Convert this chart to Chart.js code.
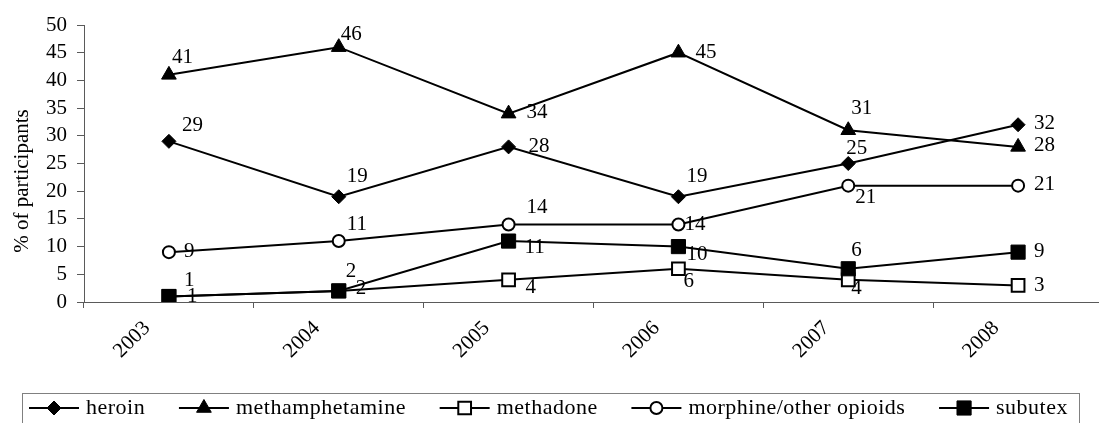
<!DOCTYPE html>
<html>
<head>
<meta charset="utf-8">
<script src="https://cdn.jsdelivr.net/npm/chart.js@4/dist/chart.umd.min.js"></script>
<style>
  html, body { margin: 0; padding: 0; background: #fff; overflow: hidden; }
  #wrap { width: 1099px; height: 423px; overflow: hidden; }
  canvas { display: block; }
</style>
</head>
<body>
<div id="wrap"><canvas id="trendChart" width="1114" height="423" style="width:1114px;height:423px"></canvas></div>
<script>
const years = ['2003', '2004', '2005', '2006', '2007', '2008'];
const heroin = [29, 19, 28, 19, 25, 32];
const methamphetamine = [41, 46, 34, 45, 31, 28];
const methadone = [1, 2, 4, 6, 4, 3];
const morphine = [9, 11, 14, 14, 21, 21];
const subutex = [1, 2, 11, 10, 6, 9];
const yMin = 0, yMax = 50, yStep = 5;
const yTitle = '% of participants';

// value label placement: [dx to start of text, dy to middle of text] from each point
const labelOffsets = {
  heroin:          [[13, -16], [8, -20], [20, 0], [8, -20], [-2, -15], [16, -1]],
  methamphetamine: [[3, -17], [2, -13], [18, -1], [17, 0], [3, -22], [16, -1]],
  methadone:       [[18, 0], [17, -2], [17, 8], [5, 13], [3, 9], [16, 0]],
  morphine:        [[15, -1], [8, -17], [18, -17], [6, 0], [7, 12], [16, -1]],
  subutex:         [[15, -16], [7, -19], [16, 6], [8, 8], [3, -18], [16, -1]]
};

const FONT = '"Liberation Serif", "Times New Roman", serif';
const AXIS = '#5a5a5a';

function series(key, label, data, style, radius, fill, borderWidth, order) {
  return {
    key: key,
    label: label,
    data: data,
    order: order,
    borderColor: '#000',
    borderWidth: 2,
    tension: 0,
    pointStyle: style,
    pointRadius: radius,
    pointBackgroundColor: fill,
    pointBorderColor: '#000',
    pointBorderWidth: borderWidth
  };
}

const datasets = [
  series('heroin', 'heroin', heroin, 'rectRot', 7, '#000', 1, 1),
  series('methamphetamine', 'methamphetamine', methamphetamine, 'triangle', 8.5, '#000', 1, 1),
  series('methadone', 'methadone', methadone, 'rect', 9, '#fff', 2, 1),
  series('morphine', 'morphine/other opioids', morphine, 'circle', 6, '#fff', 2, 1),
  series('subutex', 'subutex', subutex, 'rect', 10, '#000', 1, 0)
];

const annotate = {
  id: 'annotate',
  afterDatasetsDraw(chart) {
    const ctx = chart.ctx;
    ctx.save();
    ctx.font = '21px ' + FONT;
    ctx.fillStyle = '#000';
    ctx.textAlign = 'left';
    ctx.textBaseline = 'middle';
    chart.data.datasets.forEach((ds, i) => {
      const offs = labelOffsets[ds.key];
      chart.getDatasetMeta(i).data.forEach((pt, j) => {
        ctx.fillText(String(ds.data[j]), pt.x + offs[j][0], pt.y + offs[j][1]);
      });
    });
    ctx.restore();
  },
  afterDraw(chart) {
    const ctx = chart.ctx;

    // y axis title
    ctx.save();
    ctx.translate(22, 181);
    ctx.rotate(-Math.PI / 2);
    ctx.font = '21px ' + FONT;
    ctx.fillStyle = '#000';
    ctx.textAlign = 'center';
    ctx.textBaseline = 'middle';
    ctx.fillText(yTitle, 0, 0);
    ctx.restore();

    // legend box along the bottom
    const box = { x: 22, y: 393, w: 1057, h: 40 };
    const cy = 408, lineLen = 50, textGap = 7;
    const startX = 29, endX = 1068;
    ctx.save();
    ctx.strokeStyle = '#808080';
    ctx.lineWidth = 1;
    ctx.strokeRect(box.x + 0.5, box.y + 0.5, box.w, box.h);

    ctx.font = '22px ' + FONT;
    ctx.letterSpacing = '0.5px';
    const dsList = chart.data.datasets;
    const widths = dsList.map(ds => ctx.measureText(ds.label).width);
    const used = widths.reduce((a, b) => a + b, 0) + dsList.length * (lineLen + textGap);
    const gap = (endX - startX - used) / (dsList.length - 1);

    let x = startX;
    dsList.forEach((ds, i) => {
      ctx.beginPath();
      ctx.moveTo(x, cy);
      ctx.lineTo(x + lineLen, cy);
      ctx.strokeStyle = '#000';
      ctx.lineWidth = 2;
      ctx.stroke();

      ctx.fillStyle = ds.pointBackgroundColor;
      ctx.strokeStyle = ds.pointBorderColor;
      ctx.lineWidth = ds.pointBorderWidth;
      Chart.helpers.drawPoint(ctx, {
        pointStyle: ds.pointStyle,
        radius: ds.pointRadius,
        borderWidth: ds.pointBorderWidth,
        rotation: 0
      }, x + lineLen / 2, cy);

      x += lineLen + textGap;
      ctx.fillStyle = '#000';
      ctx.textAlign = 'left';
      ctx.textBaseline = 'middle';
      ctx.fillText(ds.label, x, cy);
      x += widths[i] + gap;
    });
    ctx.restore();
  }
};

new Chart(document.getElementById('trendChart'), {
  type: 'line',
  data: { labels: years, datasets: datasets },
  plugins: [annotate],
  options: {
    responsive: false,
    animation: false,
    layout: { padding: { top: 25, right: 1, left: 0, bottom: 0 } },
    plugins: {
      legend: { display: false },
      tooltip: { enabled: false }
    },
    scales: {
      x: {
        type: 'category',
        offset: true,
        grid: { offset: true, drawOnChartArea: false, tickLength: 6, color: AXIS },
        border: { color: AXIS },
        ticks: {
          autoSkip: false,
          minRotation: 45,
          maxRotation: 45,
          labelOffset: -22,
          padding: 8,
          color: '#000',
          font: { family: FONT, size: 21 }
        },
        afterFit(scale) { scale.height = 121; }
      },
      y: {
        min: yMin,
        max: yMax,
        ticks: { autoSkip: false, stepSize: yStep, padding: 10, color: '#000', font: { family: FONT, size: 21 } },
        grid: { drawOnChartArea: false, tickLength: 7, color: AXIS },
        border: { color: AXIS },
        afterFit(scale) { scale.width = 84; }
      }
    }
  }
});
</script>
</body>
</html>
